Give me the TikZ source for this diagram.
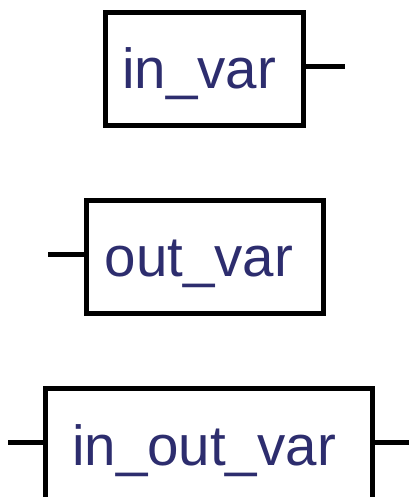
\documentclass[tikz,border=0pt]{standalone}
\usepackage{fontspec}
\setmainfont{Liberation Sans}
\usepackage{tikz}
\definecolor{varink}{RGB}{45,45,110}
\tikzset{
  var-box/.style={draw=black, line width=5pt, fill=white, inner sep=0pt},
  var-label/.style={anchor=base, inner sep=0pt, text=varink,
    font=\fontsize{56.5}{60}\selectfont},
  var-pin/.style={draw=black, line width=5pt}
}
\begin{document}
\begin{tikzpicture}[x=1pt, y=-1pt]
  \useasboundingbox (0,0) rectangle (409,497);
  % input variable
  \node[var-box, minimum width=198.5pt, minimum height=113pt] (inbox) at (204.25,69) {};
  \node[var-label] (inlabel) at (199,89) {in\_var};
  \coordinate (inpin) at (345,66.5);
  \draw[var-pin] (inbox.east |- inpin) -- (inpin);
  % output variable
  \node[var-box, minimum width=237.5pt, minimum height=112.5pt] (outbox) at (204.75,256.75) {};
  \node[var-label] (outlabel) at (199,276.7) {out\_var};
  \coordinate (outpin) at (48,254);
  \draw[var-pin] (outpin) -- (outbox.west |- outpin);
  % in/out variable
  \node[var-box, minimum width=327pt, minimum height=113pt] (inoutbox) at (209,445) {};
  \node[var-label] (inoutlabel) at (204,465) {in\_out\_var};
  \coordinate (inoutpinl) at (8,442.5);
  \coordinate (inoutpinr) at (409,442.5);
  \draw[var-pin] (inoutpinl) -- (inoutbox.west |- inoutpinl);
  \draw[var-pin] (inoutbox.east |- inoutpinr) -- (inoutpinr);
\end{tikzpicture}
\end{document}
